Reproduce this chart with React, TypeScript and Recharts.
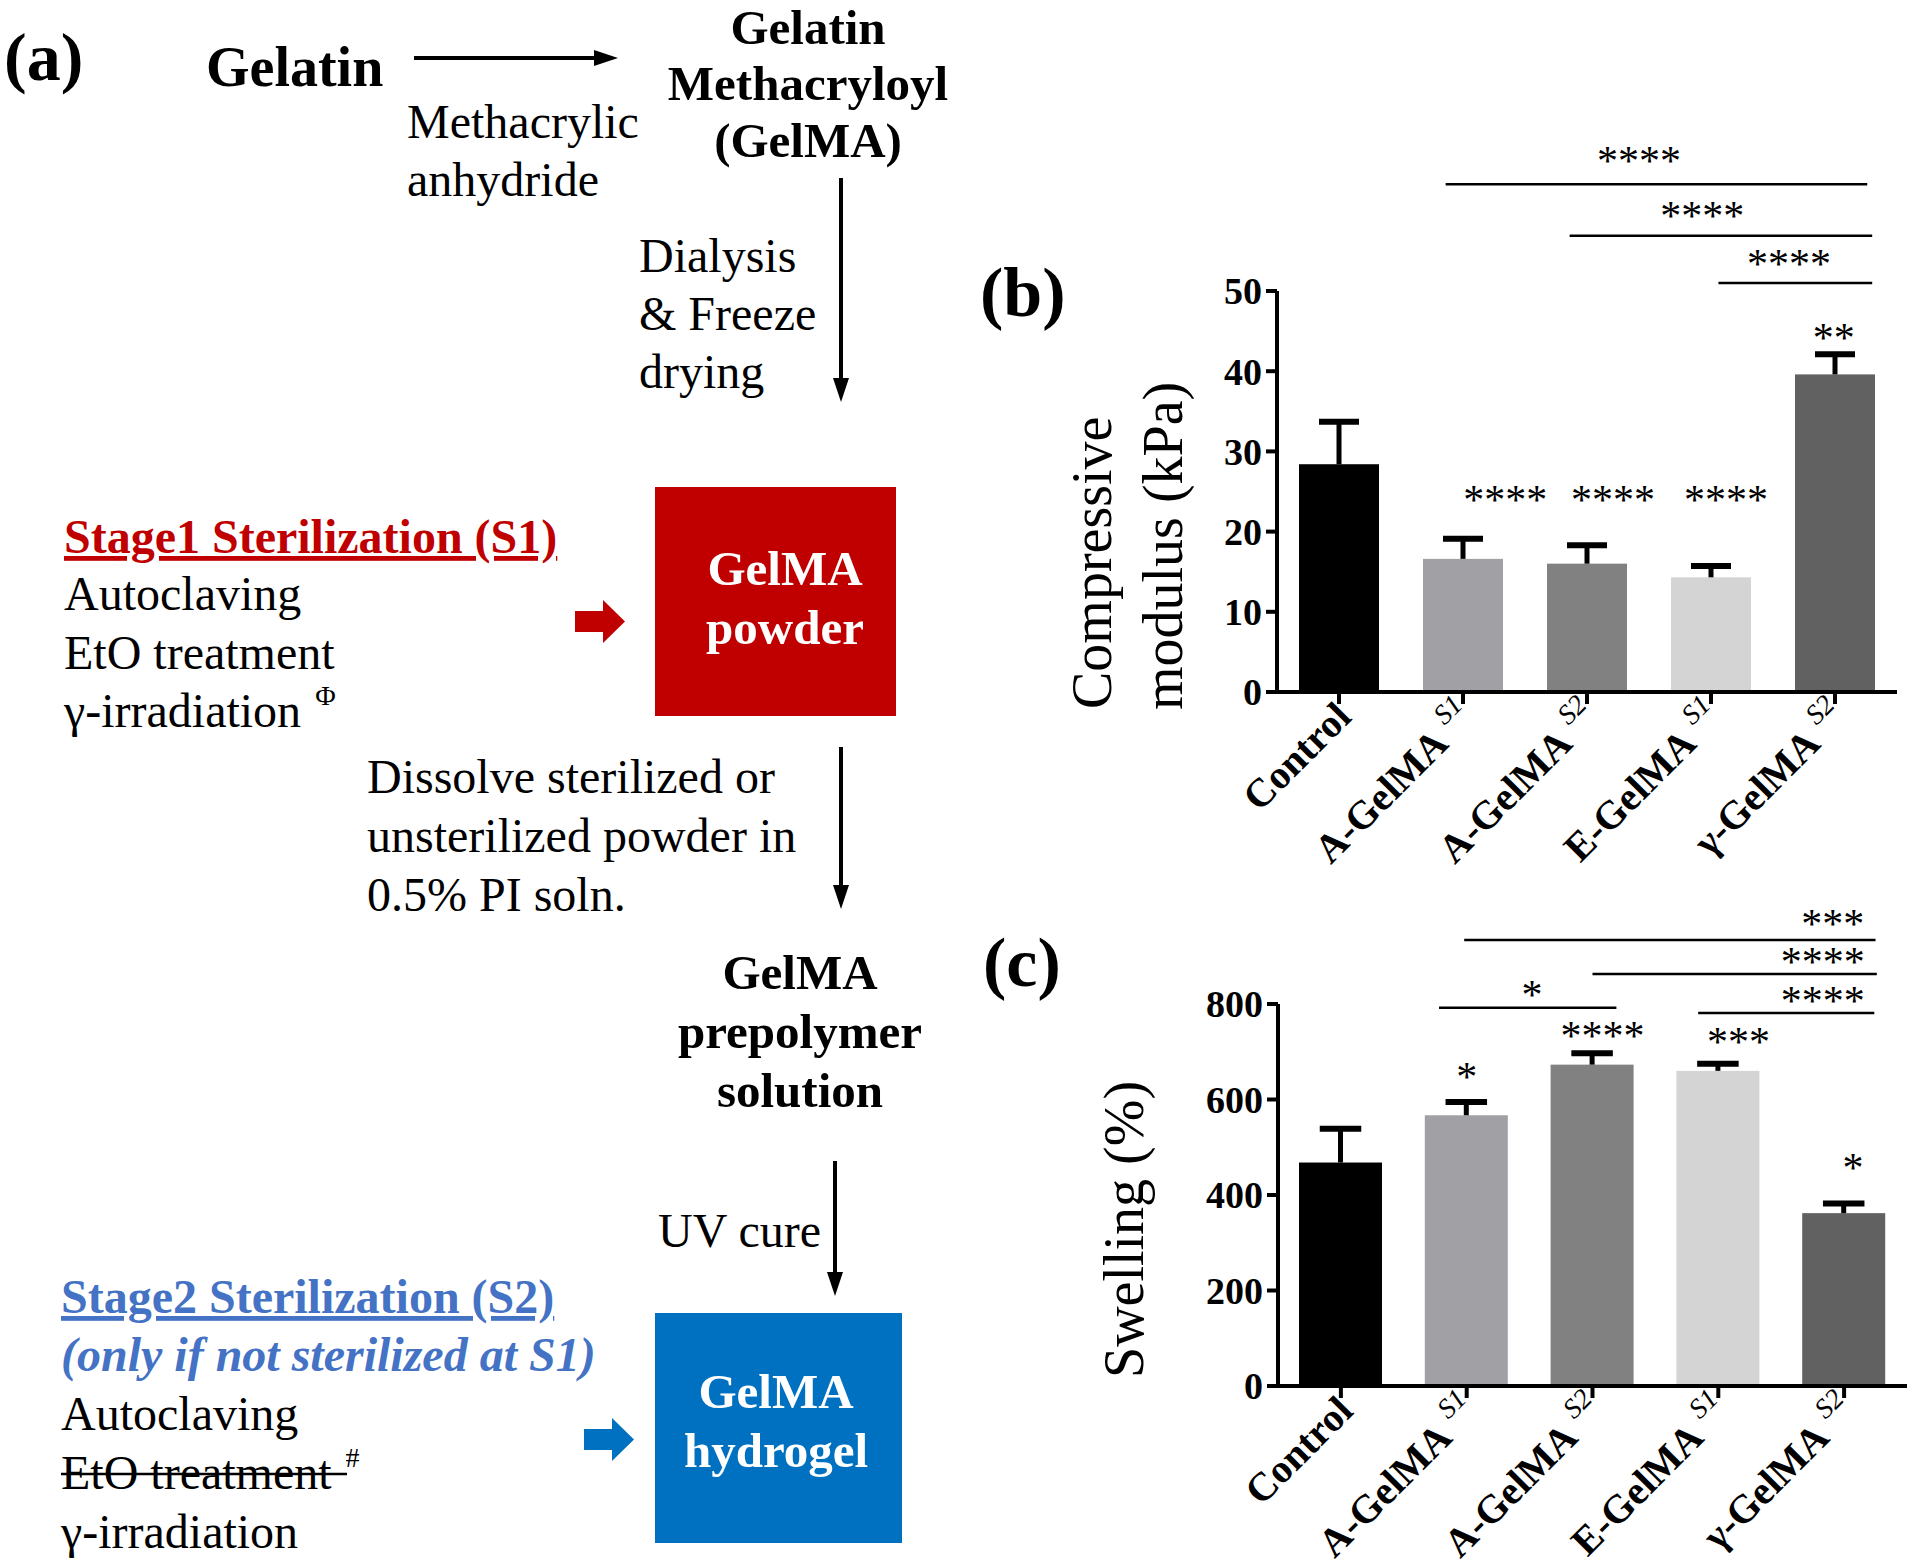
import React from 'react';
import { BarChart, Bar, XAxis, YAxis, Cell, ReferenceLine, ReferenceDot } from 'recharts';

const FONT = '"Liberation Serif", "Times New Roman", Times, serif';

// ---------- data ----------
const groups = ['Control', 'A-GelMA', 'A-GelMA', 'E-GelMA', 'γ-GelMA'];
const stages = ['', 'S1', 'S2', 'S1', 'S2'];
const categoryPos = [0.5, 1.5, 2.5, 3.5, 4.5];
const barColors = ['#000000', '#a1a1a5', '#818181', '#d4d4d4', '#616161'];

const modulusMean = [28.4, 16.6, 16.0, 14.3, 39.6];
const modulusSd = [5.3, 2.5, 2.3, 1.4, 2.5];
const modulusTicks = [0, 10, 20, 30, 40, 50];

const swellingMean = [468, 567, 673, 660, 362];
const swellingSd = [71, 28, 24, 15, 20];
const swellingTicks = [0, 200, 400, 600, 800];

// significance marks: x in category units (0..5), y in data units (text baseline)
const modulusStars = [
  { x: 1.84, y: 22.2, t: '****' },
  { x: 2.71, y: 22.2, t: '****' },
  { x: 3.62, y: 22.2, t: '****' },
  { x: 4.49, y: 42.4, t: '**' },
];
const modulusBrackets = [
  { x1: 1.36, x2: 4.76, y: 63.3, tx: 2.92, ty: 64.5, t: '****' },
  { x1: 2.36, x2: 4.8, y: 56.9, tx: 3.43, ty: 57.6, t: '****' },
  { x1: 3.56, x2: 4.8, y: 51.0, tx: 4.13, ty: 51.6, t: '****' },
];
const swellingStars = [
  { x: 1.5, y: 618, t: '*' },
  { x: 2.58, y: 704, t: '****' },
  { x: 3.66, y: 691, t: '***' },
  { x: 4.57, y: 427, t: '*' },
];
const swellingBrackets = [
  { x1: 1.28, x2: 2.69, y: 792, tx: 2.02, ty: 790, t: '*' },
  { x1: 1.48, x2: 4.75, y: 934, tx: 4.41, ty: 938, t: '***' },
  { x1: 2.5, x2: 4.76, y: 863, tx: 4.33, ty: 859, t: '****' },
  { x1: 3.34, x2: 4.74, y: 781, tx: 4.33, ty: 777, t: '****' },
];

const modulusData = categoryPos.map((p, i) => ({ pos: p, mean: modulusMean[i], sd: modulusSd[i] }));
const swellingData = categoryPos.map((p, i) => ({ pos: p, mean: swellingMean[i], sd: swellingSd[i] }));

// ---------- chart pieces ----------
const BarWithError = (props: any) => {
  const { x, y, width, height, fill, payload } = props;
  const perUnit = payload.mean ? height / payload.mean : 0;
  const top = y - payload.sd * perUnit;
  const cx = x + width / 2;
  const cap = width * 0.25;
  return (
    <g>
      <rect x={x} y={y} width={width} height={height} fill={fill} />
      <line x1={cx} y1={y} x2={cx} y2={top} stroke="#000" strokeWidth={5} />
      <line x1={cx - cap} y1={top} x2={cx + cap} y2={top} stroke="#000" strokeWidth={6} />
    </g>
  );
};

const CatTick = (props: any) => {
  const { x, y, payload } = props;
  const i = categoryPos.indexOf(payload.value);
  const g = groups[i] ?? '';
  const s = stages[i] ?? '';
  return (
    <g transform={`translate(${x + 14},${y + 13}) rotate(-45)`}>
      <text textAnchor="end" fontFamily={FONT} fontSize={40} fontWeight="bold" fill="#000">
        {g}
        {s ? (
          <tspan fontStyle="italic" fontWeight="normal" fontSize={28} dx={10} dy={-18}>
            {s}
          </tspan>
        ) : null}
      </text>
    </g>
  );
};

const starShape = (t: string) => (p: any) => (
  <text x={p.cx} y={p.cy} textAnchor="middle" fontFamily={FONT} fontSize={42} fill="#000">
    {t}
  </text>
);

const axisStyle = { stroke: '#000', strokeWidth: 4 };
const yTickStyle = { fill: '#000', fontSize: 38, fontWeight: 'bold', fontFamily: FONT };

function renderSig(stars: any[], brackets: any[], keyp: string) {
  const out: any[] = [];
  brackets.forEach((b, i) => {
    out.push(
      <ReferenceLine
        key={`${keyp}bl${i}`}
        ifOverflow="visible"
        segment={[{ x: b.x1, y: b.y }, { x: b.x2, y: b.y }]}
        stroke="#000"
        strokeWidth={2.5}
      />
    );
    out.push(<ReferenceDot key={`${keyp}bt${i}`} x={b.tx} y={b.ty} r={0} ifOverflow="visible" shape={starShape(b.t)} />);
  });
  stars.forEach((s, i) => {
    out.push(<ReferenceDot key={`${keyp}s${i}`} x={s.x} y={s.y} r={0} ifOverflow="visible" shape={starShape(s.t)} />);
  });
  return out;
}

function CatXAxis(height: number) {
  return (
    <XAxis
      dataKey="pos"
      type="number"
      domain={[0, 5]}
      allowDataOverflow
      ticks={categoryPos}
      interval={0}
      height={height}
      axisLine={axisStyle}
      tickLine={axisStyle}
      tickSize={12}
      tick={<CatTick />}
    />
  );
}

function ModulusChart() {
  return (
    <div style={{ position: 'absolute', left: 1000, top: 100 }}>
      <BarChart width={920} height={800} data={modulusData} margin={{ top: 191, right: 23, left: 200, bottom: 8 }}>
        {CatXAxis(200)}
        <YAxis
          width={77}
          domain={[0, 50]}
          ticks={modulusTicks}
          interval={0}
          axisLine={axisStyle}
          tickLine={axisStyle}
          tickSize={11}
          tickMargin={4}
          tick={yTickStyle}
          label={{
            content: () => (
              <g fontFamily={FONT} fontSize={56} fill="#000">
                <text transform="translate(111,609) rotate(-90)" textAnchor="start">Compressive</text>
                <text transform="translate(182,610) rotate(-90)" textAnchor="start">modulus (kPa)</text>
              </g>
            ),
          }}
        />
        <Bar dataKey="mean" barSize={80} isAnimationActive={false} shape={<BarWithError />}>
          {modulusData.map((d, i) => (
            <Cell key={`m${i}`} fill={barColors[i]} />
          ))}
        </Bar>
        {renderSig(modulusStars, modulusBrackets, 'm')}
      </BarChart>
    </div>
  );
}

function SwellingChart() {
  return (
    <div style={{ position: 'absolute', left: 1000, top: 800 }}>
      <BarChart width={920} height={767} data={swellingData} margin={{ top: 204, right: 13, left: 200, bottom: 11 }}>
        {CatXAxis(170)}
        <YAxis
          width={78}
          domain={[0, 800]}
          ticks={swellingTicks}
          interval={0}
          axisLine={axisStyle}
          tickLine={axisStyle}
          tickSize={11}
          tickMargin={4}
          tick={yTickStyle}
          label={{
            content: () => (
              <text transform="translate(143,578) rotate(-90)" textAnchor="start" fontFamily={FONT} fontSize={56} fill="#000">
                Swelling (%)
              </text>
            ),
          }}
        />
        <Bar dataKey="mean" barSize={83} isAnimationActive={false} shape={<BarWithError />}>
          {swellingData.map((d, i) => (
            <Cell key={`s${i}`} fill={barColors[i]} />
          ))}
        </Bar>
        {renderSig(swellingStars, swellingBrackets, 's')}
      </BarChart>
    </div>
  );
}

// ---------- schematic (a) ----------
const RED = '#c00000';
const BLUE_BOX = '#0070c0';
const BLUE_TXT = '#4472c4';

function DownArrow({ x, y1, y2 }: { x: number; y1: number; y2: number }) {
  return (
    <g>
      <line x1={x} y1={y1} x2={x} y2={y2 - 20} stroke="#000" strokeWidth={4} />
      <polygon points={`${x - 8},${y2 - 24} ${x + 8},${y2 - 24} ${x},${y2}`} fill="#000" />
    </g>
  );
}

function BlockArrow({ x, y, color }: { x: number; y: number; color: string }) {
  const pts = [
    [x, y + 11],
    [x + 28, y + 11],
    [x + 28, y],
    [x + 50, y + 21.5],
    [x + 28, y + 43],
    [x + 28, y + 32],
    [x, y + 32],
  ]
    .map((p) => p.join(','))
    .join(' ');
  return <polygon points={pts} fill={color} />;
}

function Schematic() {
  const reg = { fontFamily: FONT, fontSize: 48, fill: '#000' } as any;
  const bold = { fontFamily: FONT, fontSize: 49, fontWeight: 'bold', fill: '#000' } as any;
  return (
    <svg width={1920} height={1567} style={{ position: 'absolute', left: 0, top: 0 }}>
      <text x={4} y={80} fontFamily={FONT} fontSize={68} fontWeight="bold">(a)</text>
      <text x={980} y={316} fontFamily={FONT} fontSize={70} fontWeight="bold">(b)</text>
      <text x={983} y={986} fontFamily={FONT} fontSize={70} fontWeight="bold">(c)</text>

      <text x={206} y={86} {...bold} fontSize={56}>Gelatin</text>
      <line x1={414} y1={58} x2={598} y2={58} stroke="#000" strokeWidth={4} />
      <polygon points="594,50 594,66 618,58" fill="#000" />
      <text x={407} y={138} {...reg}>Methacrylic</text>
      <text x={407} y={196} {...reg}>anhydride</text>

      <text x={808} y={44} {...bold} textAnchor="middle">Gelatin</text>
      <text x={808} y={100} {...bold} textAnchor="middle">Methacryloyl</text>
      <text x={808} y={157} {...bold} textAnchor="middle">(GelMA)</text>

      <DownArrow x={841} y1={178} y2={402} />
      <text x={639} y={272} {...reg}>Dialysis</text>
      <text x={639} y={330} {...reg}>&amp; Freeze</text>
      <text x={639} y={388} {...reg}>drying</text>

      <text x={64} y={553} {...bold} fontSize={48} fill={RED} textDecoration="underline">Stage1 Sterilization (S1)</text>
      <text x={64} y={610} {...reg}>Autoclaving</text>
      <text x={64} y={669} {...reg}>EtO treatment</text>
      <text x={64} y={727} {...reg}>
        γ-irradiation
        <tspan fontSize={28} dx={14} dy={-22}>Φ</tspan>
      </text>

      <BlockArrow x={575} y={600} color={RED} />
      <rect x={655} y={487} width={241} height={229} fill={RED} />
      <text x={785} y={585} {...bold} fill="#fff" textAnchor="middle">GelMA</text>
      <text x={785} y={644} {...bold} fill="#fff" textAnchor="middle">powder</text>

      <DownArrow x={841} y1={747} y2={909} />
      <text x={367} y={793} {...reg}>Dissolve sterilized or</text>
      <text x={367} y={852} {...reg}>unsterilized powder in</text>
      <text x={367} y={911} {...reg}>0.5% PI soln.</text>

      <text x={800} y={989} {...bold} textAnchor="middle">GelMA</text>
      <text x={800} y={1048} {...bold} textAnchor="middle">prepolymer</text>
      <text x={800} y={1107} {...bold} textAnchor="middle">solution</text>

      <DownArrow x={835} y1={1161} y2={1296} />
      <text x={658} y={1247} {...reg}>UV cure</text>

      <text x={61} y={1313} {...bold} fontSize={48} fill={BLUE_TXT} textDecoration="underline">Stage2 Sterilization (S2)</text>
      <text x={61} y={1371} {...bold} fontSize={48} fontStyle="italic" fill={BLUE_TXT}>(only if not sterilized at S1)</text>
      <text x={61} y={1430} {...reg}>Autoclaving</text>
      <text x={61} y={1489} {...reg}>
        EtO treatment
        <tspan fontSize={28} dx={14} dy={-22}>#</tspan>
      </text>
      <line x1={61} y1={1474} x2={347} y2={1474} stroke="#000" strokeWidth={2.5} />
      <text x={61} y={1548} {...reg}>γ-irradiation</text>

      <BlockArrow x={584} y={1418} color={BLUE_BOX} />
      <rect x={655} y={1313} width={247} height={230} fill={BLUE_BOX} />
      <text x={776} y={1408} {...bold} fill="#fff" textAnchor="middle">GelMA</text>
      <text x={776} y={1467} {...bold} fill="#fff" textAnchor="middle">hydrogel</text>
    </svg>
  );
}

export default function App() {
  return (
    <div style={{ position: 'absolute', left: 0, top: 0, width: 1920, height: 1567, background: '#fff', overflow: 'hidden' }}>
      <Schematic />
      <ModulusChart />
      <SwellingChart />
    </div>
  );
}
